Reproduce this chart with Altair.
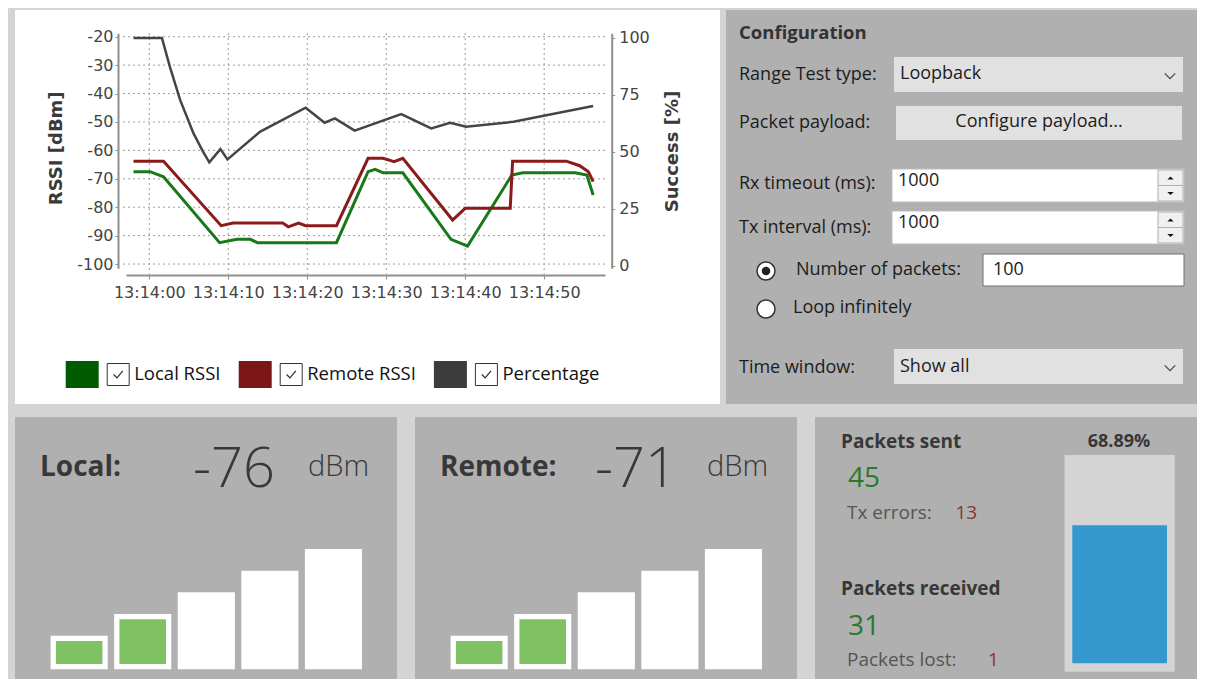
import altair as alt
import pandas as pd

BASE = pd.Timestamp("2024-01-01 13:14:00")

# ---------------- data ----------------
# seconds relative to 13:14:00
local_t = [-2.0, 0.1, 1.8, 8.9, 11.1, 12.8, 13.7, 23.7, 27.7, 28.6, 29.6, 32.1,
           38.2, 40.3, 45.9, 47.3, 53.9, 55.4, 56.2]
local_rssi = [-67.5, -67.5, -69.3, -92.5, -91.3, -91.3, -92.5, -92.5, -67.5, -66.7,
              -67.9, -67.9, -91.3, -93.7, -68.7, -67.9, -67.9, -68.7, -75.7]
remote_t = [-2.0, 1.8, 9.1, 10.6, 16.9, 17.6, 18.9, 19.8, 23.7, 27.7, 29.6, 31.0,
            32.1, 38.4, 40.0, 45.7, 46.0, 52.8, 54.5, 55.6, 56.2]
remote_rssi = [-63.8, -63.8, -86.5, -85.6, -85.6, -86.9, -85.6, -86.5, -86.5, -62.8,
               -62.8, -64.0, -62.8, -84.5, -80.4, -80.4, -63.8, -63.8, -65.4, -67.5, -71.0]
pct_t = [-2.0, 1.6, 2.6, 3.9, 5.6, 6.8, 7.6, 9.0, 9.9, 14.0, 19.8, 22.2, 23.5, 26.0,
         31.9, 35.7, 38.1, 40.1, 46.1, 56.2]
pct_values = [100, 100, 87.4, 72.8, 58.1, 50.1, 45.4, 51.2, 46.7, 58.8, 69.4, 62.8,
              64.7, 59.3, 66.6, 60.3, 62.8, 61.0, 63.2, 70.1]

series_names = ["Local RSSI", "Remote RSSI", "Percentage"]
line_colors = ["#18781a", "#8a1b1b", "#454545"]
swatch_colors = ["#005a00", "#7a1616", "#3c3c3c"]

rssi_ticks = [-100, -90, -80, -70, -60, -50, -40, -30, -20]
pct_ticks = [0, 25, 50, 75, 100]
time_tick_secs = [0, 10, 20, 30, 40, 50]

rssi_title = "RSSI [dBm]"
pct_title = "Success [%]"

config_title = "Configuration"
config_labels = ["Range Test type:", "Packet payload:", "Rx timeout (ms):",
                 "Tx interval (ms):", "Time window:"]
range_test_type = "Loopback"
payload_button = "Configure payload..."
rx_timeout = "1000"
tx_interval = "1000"
radio_labels = ["Number of packets:", "Loop infinitely"]
number_of_packets = "100"
time_window = "Show all"

local_dbm = -76
remote_dbm = -71
signal_levels = [1, 2, 3, 4, 5]
local_bars_lit = 2
remote_bars_lit = 2

packets_sent = 45
tx_errors = 13
packets_received = 31
packets_lost = 1
success_rate = 68.89

# ---------------- helpers ----------------
UI = "Open Sans"
AX = "DejaVu Sans"
ONE = pd.DataFrame({"k": [0]})


def iso(s):
    return (BASE + pd.Timedelta(seconds=s)).strftime("%Y-%m-%dT%H:%M:%S.%f")[:-3]


def DT(s):
    ts = BASE + pd.Timedelta(seconds=s)
    return alt.DateTime(year=ts.year, month=ts.month, date=ts.day, hours=ts.hour,
                        minutes=ts.minute, seconds=ts.second,
                        milliseconds=int(round(ts.microsecond / 1000)))


def rect(x0, y0, x1, y1, fill, stroke=None, sw=1.0):
    kw = dict(fill=fill)
    if stroke:
        kw.update(stroke=stroke, strokeWidth=sw)
    return alt.Chart(ONE).mark_rect(**kw).encode(
        x=alt.value(x0), x2=alt.value(x1), y=alt.value(y0), y2=alt.value(y1))


def text(x, y, s, size=18, weight="normal", color="#1c1c1c", align="left",
         baseline="middle", font=UI, angle=None):
    kw = dict(text=s, fontSize=size, fontWeight=weight, color=color, align=align,
              baseline=baseline, font=font)
    if angle is not None:
        kw["angle"] = angle
    return alt.Chart(ONE).mark_text(**kw).encode(x=alt.value(x), y=alt.value(y))


def symbol(x, y, shape, size, fill=None, stroke=None, sw=1.0):
    kw = dict(shape=shape, size=size, opacity=1)
    if fill:
        kw.update(filled=True, fill=fill)
    else:
        kw.update(filled=False)
    if stroke:
        kw.update(stroke=stroke, strokeWidth=sw)
    else:
        kw.update(strokeWidth=0)
    return alt.Chart(ONE).mark_point(**kw).encode(x=alt.value(x), y=alt.value(y))


CHEVRON = "M-1,-0.5L0,0.5L1,-0.5"
CHECK = "M-0.75,0L-0.2,0.55L0.75,-0.6"
UP = "M-1,0.5L0,-0.5L1,0.5Z"
DOWN = "M-1,-0.5L0,0.5L1,-0.5Z"

PANEL = "#b0b0b0"

# ---------------- panel A: chart ----------------
WA, HA = 705, 394
rssi_df = pd.concat([
    pd.DataFrame({"time": [iso(s) for s in local_t], "dbm": local_rssi, "series": series_names[0]}),
    pd.DataFrame({"time": [iso(s) for s in remote_t], "dbm": remote_rssi, "series": series_names[1]}),
])
pct_df = pd.DataFrame({"time": [iso(s) for s in pct_t], "pct": pct_values})
vgrid_df = pd.DataFrame({"time": [iso(s) for s in time_tick_secs]})
hgrid_df = pd.DataFrame({"dbm": rssi_ticks})

axis_common = dict(title=None, grid=False, zindex=1, domainColor="#8e8e8e", domainWidth=2,
                   tickColor="#8e8e8e", labelFont=AX, labelFontSize=16,
                   labelColor="#444444")
x_scale = alt.Scale(domain=[DT(-2.95), DT(57.7)], range=[111, 590])
x_axis = alt.Axis(format="%H:%M:%S", values=[DT(s) for s in time_tick_secs], orient="bottom",
                  offset=-129, tickSize=4, labelPadding=5, labelFlush=False,
                  labelOverlap=False, **axis_common)
X = alt.X("time:T", scale=x_scale, axis=x_axis)

y_rssi = alt.Scale(domain=[-101.5, -18.8], range=[258.3, 23.3], nice=False, zero=False)
rssi_axis = alt.Axis(orient="left", offset=-103, values=rssi_ticks, tickSize=3,
                     labelPadding=2, labelExpr="toString(datum.value)", **axis_common)
y_pct = alt.Scale(domain=[-1.14, 102.06], range=[258.3, 23.3], nice=False, zero=False)
pct_axis = alt.Axis(orient="right", offset=-108.3, values=pct_ticks, tickSize=3,
                    labelPadding=4, labelExpr="toString(datum.value)", **axis_common)

grid_style = dict(color="#9c9c9c", strokeWidth=1, strokeDash=[2, 3])
vgrid = alt.Chart(vgrid_df).mark_rule(**grid_style).encode(
    x=X, y=alt.value(23), y2=alt.value(264))
hgrid = alt.Chart(hgrid_df).mark_rule(**grid_style).encode(
    y=alt.Y("dbm:Q", scale=y_rssi, axis=rssi_axis), x=alt.value(108), x2=alt.value(590))
rssi_lines = alt.Chart(rssi_df).mark_line(strokeWidth=3).encode(
    x=X,
    y=alt.Y("dbm:Q", scale=y_rssi, axis=rssi_axis),
    color=alt.Color("series:N", scale=alt.Scale(domain=series_names[:2], range=line_colors[:2]),
                    legend=None),
)
pct_line = alt.Chart(pct_df).mark_line(strokeWidth=2.5, color=line_colors[2]).encode(
    x=X, y=alt.Y("pct:Q", scale=y_pct, axis=pct_axis))

legend_layers = []
legend_x = [50.7, 223.7, 418.9]
for i, name in enumerate(series_names):
    x0 = legend_x[i]
    legend_layers += [
        rect(x0, 351, x0 + 33, 378, swatch_colors[i]),
        rect(x0 + 41.5, 353.5, x0 + 63.5, 375.5, "#ffffff", "#333333", 1),
        symbol(x0 + 52.5, 364.5, CHECK, 150, stroke="#333333", sw=1.3),
        text(x0 + 68.5, 364, name, size=18.5, color="#111111"),
    ]

panel_a = alt.layer(
    rect(0, 0, WA, HA, "#ffffff"),
    alt.layer(vgrid, hgrid, rssi_lines),
    pct_line,
    text(42, 138.3, rssi_title, size=18, weight="bold", color="#3a3a3a", align="center",
         font=AX, angle=270),
    text(658, 141.5, pct_title, size=18, weight="bold", color="#3a3a3a", align="center",
         font=AX, angle=270),
    *legend_layers,
).resolve_scale(y="independent").properties(width=WA, height=HA)

# ---------------- panel B: configuration ----------------
WB, HB = 471, 394
label_y = [65, 113, 174, 218, 358]
b_layers = [rect(0, 0, WB, HB, PANEL),
            text(13, 23, config_title, size=18.5, weight="bold", color="#333333")]
for lab, yy in zip(config_labels, label_y):
    b_layers.append(text(13, yy, lab, size=18))
# dropdown 1
b_layers += [rect(168, 47, 457, 82, "#e1e1e1"),
             text(174, 64, range_test_type, size=18),
             symbol(444, 66, CHEVRON, 110, stroke="#444444", sw=1.2)]
# button
b_layers += [rect(170, 96, 456, 130, "#e1e1e1"),
             text(313, 112, payload_button, size=18, align="center")]
# spin boxes
for (y0, y1, val) in [(159, 192, rx_timeout), (201, 234, tx_interval)]:
    ym = (y0 + y1) / 2
    b_layers += [rect(166, y0, 458, y1, "#ffffff", "#bdbdbd", 1),
                 text(172, y0 + 12, val, size=18),
                 rect(432, y0 + 1, 457, ym, "#f0f0f0", "#b0b0b0", 1),
                 rect(432, ym, 457, y1 - 1, "#f0f0f0", "#b0b0b0", 1),
                 symbol(444.5, y0 + 9, UP, 40, fill="#111111"),
                 symbol(444.5, ym + 8, DOWN, 40, fill="#111111")]
# radios
b_layers += [symbol(40, 261, "circle", 324, fill="#ffffff", stroke="#333333", sw=1.5),
             symbol(40, 261, "circle", 72, fill="#222222"),
             text(70, 260, radio_labels[0], size=18),
             rect(257, 244, 458, 276, "#ffffff", "#707070", 1),
             text(267, 260, number_of_packets, size=18),
             symbol(40, 299, "circle", 324, fill="#ffffff", stroke="#333333", sw=1.5),
             text(67, 298, radio_labels[1], size=18)]
# dropdown 2
b_layers += [rect(168, 339, 457, 374, "#e1e1e1"),
             text(174, 357, time_window, size=18),
             symbol(444, 358, CHEVRON, 110, stroke="#444444", sw=1.2)]
panel_b = alt.layer(*b_layers).properties(width=WB, height=HB)

# ---------------- panels C, D: signal ----------------
WC, HC = 382, 262
levels_df = pd.DataFrame({"level": signal_levels})
bar_x = alt.X("level:O", scale=alt.Scale(domain=signal_levels, range=[35.6, 347],
                                          paddingInner=0.102, paddingOuter=0), axis=None)
bar_y = alt.Y("level:Q", scale=alt.Scale(domain=[-0.55, 5], range=[252.3, 132],
                                          nice=False, zero=False), axis=None, stack=None)


def signal_panel(title, value, lit, xs):
    white = alt.Chart(levels_df).mark_bar(color="#ffffff").encode(
        x=bar_x, y=bar_y, y2=alt.value(252.3))
    green = alt.Chart(levels_df).transform_filter(alt.datum.level <= lit).mark_bar(
        color="#80c263", width=alt.RelativeBandSize(0.815), yOffset=5.3, y2Offset=0
    ).encode(x=bar_x, y=bar_y, y2=alt.value(247))
    return alt.layer(
        rect(0, 0, WC, HC, PANEL),
        text(xs[0], 59, title, size=28, weight="bold", color="#383838", baseline="alphabetic"),
        text(xs[1], 69.7, str(value), size=56, weight=300, color="#383838", baseline="alphabetic"),
        text(xs[2], 59, "dBm", size=29, weight=300, color="#383838", baseline="alphabetic"),
        white, green,
    ).properties(width=WC, height=HC)


panel_c = signal_panel("Local:", local_dbm, local_bars_lit, [25, 178, 293])
panel_d = signal_panel("Remote:", remote_dbm, remote_bars_lit, [25, 180, 292])

# ---------------- panel E: packets ----------------
rate_df = pd.DataFrame({"pct": [success_rate]})
blue = alt.Chart(rate_df).mark_bar(color="#3498cf").encode(
    y=alt.Y("pct:Q", scale=alt.Scale(domain=[0, 100], range=[246.3, 46], nice=False),
            axis=None, stack=None),
    y2=alt.value(246.3), x=alt.value(257.3), x2=alt.value(352))
rate_text = alt.Chart(rate_df).transform_calculate(
    lbl=alt.expr.format(alt.datum.pct, ".2f") + "%"
).mark_text(font=UI, fontSize=18, fontWeight="bold", color="#383838", baseline="middle",
            align="center").encode(text="lbl:N", x=alt.value(304), y=alt.value(24.7))
GREEN_TXT = "#2a7a2a"
RED_TXT = "#8e3232"
GRAY_TXT = "#555555"
panel_e = alt.layer(
    rect(0, 0, WC, HC, PANEL),
    text(26, 24.5, "Packets sent", size=19, weight="bold", color="#383838"),
    text(33, 69.7, str(packets_sent), size=28, color=GREEN_TXT, baseline="alphabetic"),
    text(32, 95.5, "Tx errors:", size=19, color=GRAY_TXT),
    text(140.5, 95.5, str(tx_errors), size=19, color=RED_TXT),
    text(26, 172, "Packets received", size=19, weight="bold", color="#383838"),
    text(33, 218, str(packets_received), size=28, color=GREEN_TXT, baseline="alphabetic"),
    text(32, 243, "Packets lost:", size=19, color=GRAY_TXT),
    text(173, 243, str(packets_lost), size=19, color=RED_TXT),
    rect(249.6, 38, 359.7, 254.7, "#d4d4d4"),
    blue, rate_text,
).properties(width=WC, height=HC)

chart = alt.vconcat(
    alt.hconcat(panel_a, panel_b, spacing=6),
    alt.hconcat(panel_c, panel_d, panel_e, spacing=18),
    spacing=13,
).properties(
    padding={"left": 7, "top": 2, "right": 0, "bottom": 0},
    background="#d4d4d4",
).configure_view(stroke=None)

chart.save("out.html", embed_options={"renderer": "svg", "actions": False})
